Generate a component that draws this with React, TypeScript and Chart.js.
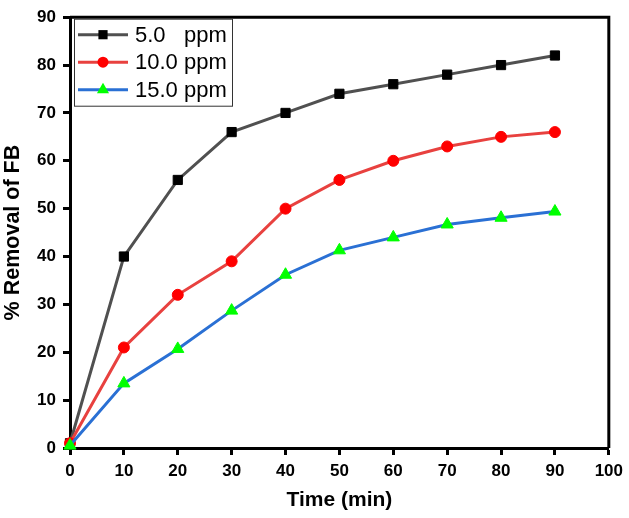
import { useEffect, useRef } from "react"
import { Chart, registerables } from "chart.js"

Chart.register(...registerables)

const times = [0, 10, 20, 30, 40, 50, 60, 70, 80, 90]
const ppm5 = [1, 40, 56, 66, 70, 74, 76, 78, 80, 82]
const ppm10 = [1, 21, 32, 39, 50, 56, 60, 63, 65, 66]
const ppm15 = [0.5, 13.5, 20.7, 28.7, 36.2, 41.3, 44, 46.7, 48.1, 49.4]
const seriesLabels = ["5.0   ppm", "10.0 ppm", "15.0 ppm"]

const FONT = "'Liberation Sans', Arial, Helvetica, sans-serif"

// frame on top/right + boxed legend drawn by hand (Chart.js legend has no line+marker sample)
const framePlugin = {
  id: "frameAndLegend",
  afterDatasetsDraw(chart: Chart) {
    const { ctx, chartArea } = chart
    const { left, top, right, bottom } = chartArea
    ctx.save()
    ctx.strokeStyle = "#000"
    ctx.lineWidth = 3
    ctx.beginPath()
    ctx.moveTo(left, top)
    ctx.lineTo(right, top)
    ctx.lineTo(right, bottom)
    ctx.stroke()

    const bx = left + 4
    const by = top + 1.5
    ctx.lineWidth = 1
    ctx.strokeStyle = "#333"
    ctx.strokeRect(bx + 0.5, by + 0.5, 158, 87)

    chart.data.datasets.forEach((ds: any, i: number) => {
      const y = by + 16 + i * 27.5
      ctx.strokeStyle = ds.borderColor
      ctx.lineWidth = 3
      ctx.beginPath()
      ctx.moveTo(bx + 4, y)
      ctx.lineTo(bx + 54, y)
      ctx.stroke()
      ctx.fillStyle = ds.pointBackgroundColor
      ctx.strokeStyle = ds.pointBorderColor
      ctx.lineWidth = 1
      const cx = bx + 29
      const r = ds.pointRadius
      ctx.beginPath()
      if (ds.pointStyle === "rect") {
        const s = r * Math.SQRT1_2
        ctx.rect(cx - s, y - s, 2 * s, 2 * s)
      } else if (ds.pointStyle === "triangle") {
        ctx.moveTo(cx, y - r)
        ctx.lineTo(cx + r * 0.866, y + r * 0.5)
        ctx.lineTo(cx - r * 0.866, y + r * 0.5)
        ctx.closePath()
      } else {
        ctx.arc(cx, y, r, 0, Math.PI * 2)
      }
      ctx.fill()
      ctx.fillStyle = "#000"
      ctx.font = `22px ${FONT}`
      ctx.textBaseline = "middle"
      ctx.textAlign = "left"
      ctx.fillText(seriesLabels[i], bx + 61, y + 1)
    })
    ctx.restore()
  },
}

export default function App() {
  const chartRef = useRef<HTMLCanvasElement>(null)
  const chartInstance = useRef<Chart | null>(null)

  useEffect(() => {
    if (!chartRef.current) return
    const ctx = chartRef.current.getContext("2d")
    if (!ctx) return
    if (chartInstance.current) chartInstance.current.destroy()

    const toPts = (vals: number[]) => vals.map((v, i) => ({ x: times[i], y: v }))

    chartInstance.current = new Chart(ctx, {
      type: "line",
      data: {
        datasets: [
          {
            label: seriesLabels[0],
            data: toPts(ppm5),
            borderColor: "#505050",
            borderWidth: 3,
            pointStyle: "rect",
            pointRadius: 6.5,
            pointBackgroundColor: "#000000",
            pointBorderColor: "#000000",
            pointBorderWidth: 1,
            clip: false,
            order: 3,
          },
          {
            label: seriesLabels[1],
            data: toPts(ppm10),
            borderColor: "#e8413f",
            borderWidth: 3,
            pointStyle: "circle",
            pointRadius: 5.5,
            pointBackgroundColor: "#ff0000",
            pointBorderColor: "#ff0000",
            pointBorderWidth: 1,
            clip: false,
            order: 2,
          },
          {
            label: seriesLabels[2],
            data: toPts(ppm15),
            borderColor: "#2a70d4",
            borderWidth: 3,
            pointStyle: "triangle",
            pointRadius: 7,
            pointBackgroundColor: "#00ff00",
            pointBorderColor: "#00ff00",
            pointBorderWidth: 1,
            clip: false,
            order: 1,
          },
        ] as any,
      },
      options: {
        responsive: true,
        maintainAspectRatio: false,
        animation: false,
        layout: { padding: { top: 10, right: 16, left: 0, bottom: 0 } },
        scales: {
          x: {
            type: "linear",
            min: 0,
            max: 100,
            ticks: {
              stepSize: 10,
              padding: 6,
              color: "#000",
              font: { family: FONT, size: 17, weight: "bold" },
            },
            grid: {
              drawOnChartArea: false,
              drawTicks: true,
              tickLength: 7,
              tickWidth: 3,
              tickColor: "#000",
            },
            border: { display: true, width: 3, color: "#000" },
            title: {
              display: true,
              text: "Time (min)",
              color: "#000",
              padding: { top: 0, bottom: 5 },
              font: { family: FONT, size: 21, weight: "bold" },
            },
            afterFit: (scale: any) => {
              scale.height = 70
            },
          },
          y: {
            min: 0,
            max: 90,
            ticks: {
              stepSize: 10,
              padding: 7,
              color: "#000",
              font: { family: FONT, size: 17, weight: "bold" },
            },
            grid: {
              drawOnChartArea: false,
              drawTicks: true,
              tickLength: 7,
              tickWidth: 3,
              tickColor: "#000",
            },
            border: { display: true, width: 3, color: "#000" },
            title: {
              display: true,
              text: "% Removal of FB",
              color: "#000",
              padding: { top: 0, bottom: 0 },
              font: { family: FONT, size: 21.5, weight: "bold" },
            },
            afterFit: (scale: any) => {
              scale.width = 70
            },
          },
        },
        plugins: {
          legend: { display: false },
          tooltip: { enabled: false },
        },
      },
      plugins: [framePlugin],
    })

    return () => {
      if (chartInstance.current) {
        chartInstance.current.destroy()
        chartInstance.current = null
      }
    }
  }, [])

  return (
    <div style={{ position: "absolute", left: 0, top: 0, width: "629px", height: "518px", background: "#fff" }}>
      <canvas ref={chartRef}></canvas>
    </div>
  )
}
